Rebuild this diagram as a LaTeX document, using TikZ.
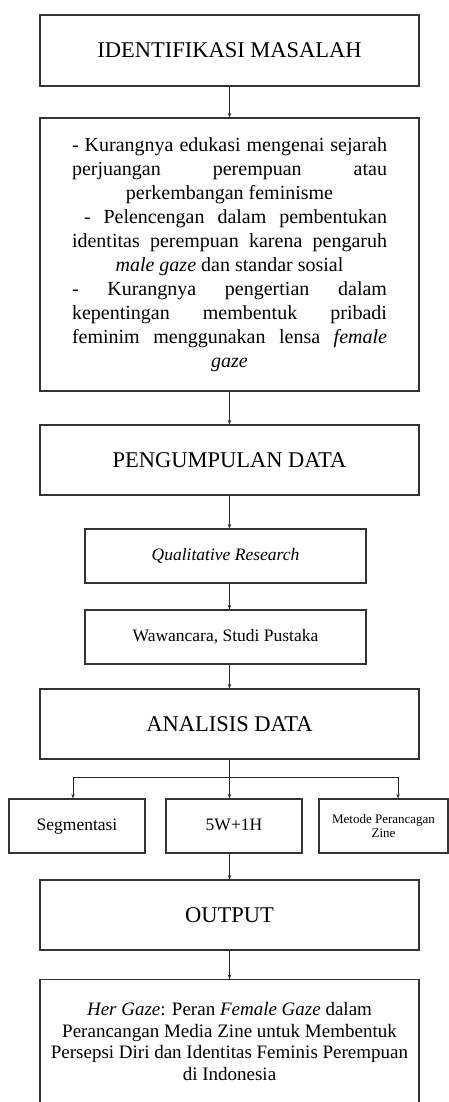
\documentclass[tikz,border=0pt]{standalone}
\usepackage{fontspec}
\setmainfont{Liberation Serif}
\usetikzlibrary{arrows.meta}
\newcommand{\barisrata}[1]{\makebox[315pt][s]{#1}}
\begin{document}
\begin{tikzpicture}[x=1pt,y=-1pt,
    kotak/.style={draw=black!80,line width=1.2pt,rectangle,inner sep=0pt,minimum width=379pt},
    judul/.style={kotak,minimum height=70pt,font=\fontsize{22.5}{26}\selectfont},
    kecil/.style={kotak,minimum height=54pt,text height=12pt,text depth=4pt,
                  font=\fontsize{17.5}{20}\selectfont},
    panah/.style={draw=black!85,line width=0.8pt,-{Stealth[length=4.5pt,width=3.5pt]}}]
  \useasboundingbox (0,0) rectangle (449,1102);
  \clip (0,0) rectangle (449,1102);
  % alur utama
  \node[judul,minimum height=71pt] (identifikasi) at (229.5,50.5) {IDENTIFIKASI MASALAH};
  \node[kotak,minimum height=273pt,align=center,
        font=\fontsize{20}{24}\selectfont] (masalah) at (229.5,254.5) {%
    \barisrata{- Kurangnya edukasi mengenai sejarah}\\
    \barisrata{perjuangan perempuan atau}\\
    perkembangan feminisme\\
    \barisrata{\hspace*{12pt}- Pelencengan dalam pembentukan}\\
    \barisrata{identitas perempuan karena pengaruh}\\
    \textit{male gaze} dan standar sosial\\
    \barisrata{- Kurangnya pengertian dalam}\\
    \barisrata{kepentingan membentuk pribadi}\\
    \barisrata{feminim menggunakan lensa \textit{female}}\\
    \textit{gaze}};
  \node[judul] (pengumpulan) at (229.5,460) {PENGUMPULAN DATA};
  \node[kecil,minimum width=281pt] (kualitatif) at (225.5,556) {\textit{Qualitative Research}};
  \node[kecil,minimum width=281pt] (wawancara) at (225.5,637) {Wawancara, Studi Pustaka};
  \node[judul] (analisis) at (229.5,724) {ANALISIS DATA};
  % cabang analisis
  \node[kecil,minimum width=136pt] (segmentasi) at (77,826) {Segmentasi};
  \node[kecil,minimum width=136pt] (limaw) at (234,826) {5W+1H};
  \node[kecil,minimum width=129pt,align=center,text height={},text depth={},
        font=\fontsize{13}{13.5}\selectfont] (metode) at (383.5,826) {Metode Perancagan\\Zine};
  \node[judul] (output) at (229.5,915) {OUTPUT};
  \node[kotak,anchor=north,minimum height=160pt] (hasilkotak) at (229.5,979) {};
  \node[align=center,anchor=north,inner sep=0pt,
        font=\fontsize{19}{21.7}\selectfont] (hasil) at (229.5,1002)
    {\textit{Her Gaze}: Peran \textit{Female Gaze} dalam\\
     Perancangan Media Zine untuk Membentuk\\
     Persepsi Diri dan Identitas Feminis Perempuan\\
     di Indonesia};
  \coordinate (cabang) at (229.5,777);
  \coordinate (kiri) at (73,777);
  \coordinate (kanan) at (398,777);
  \draw[panah] (identifikasi) -- (masalah);
  \draw[panah] (masalah) -- (pengumpulan);
  \draw[panah] (pengumpulan.south) -- (pengumpulan.south |- kualitatif.north);
  \draw[panah] (kualitatif.south -| pengumpulan.south) -- (pengumpulan.south |- wawancara.north);
  \draw[panah] (wawancara.south -| analisis.north) -- (analisis.north);
  \draw[draw=black!85,line width=0.8pt] (kiri) -- (kanan);
  \draw[panah] (analisis.south) -- (analisis.south |- limaw.north);
  \draw[panah] (kiri) -- (kiri |- segmentasi.north);
  \draw[panah] (kanan) -- (kanan |- metode.north);
  \draw[panah] (limaw.south -| output.north) -- (output.north);
  \draw[panah] (output) -- (hasilkotak);
\end{tikzpicture}
\end{document}
